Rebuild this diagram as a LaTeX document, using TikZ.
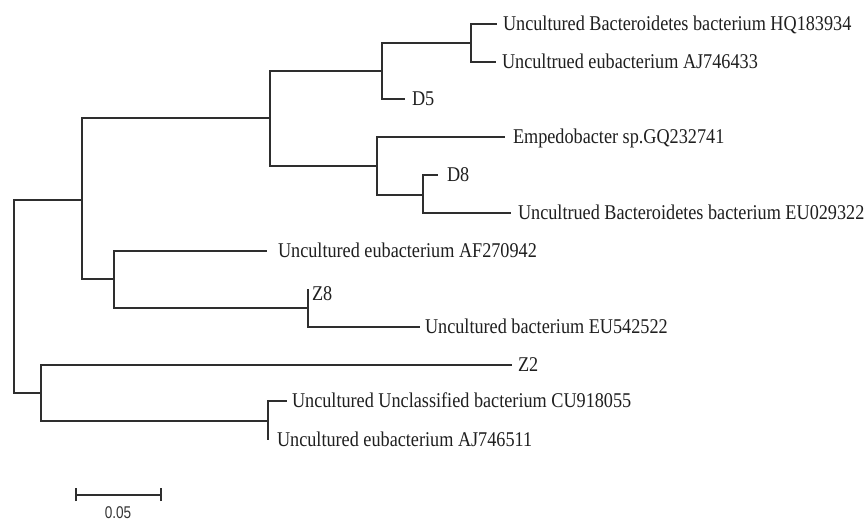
\documentclass[tikz,border=0pt]{standalone}
\usepackage{fontspec}
\setmainfont{Liberation Serif}
\newfontfamily\barfont{Liberation Sans}
\newcommand{\lbltext}[1]{\scalebox{0.867}[1]{#1}}
\begin{document}
\begin{tikzpicture}[x=1pt,y=-1pt,
  br/.style={draw=black!82,line width=1.7pt,line join=miter},
  lab/.style={anchor=base west,inner sep=0pt,outer sep=0pt,text=black!88,
    font=\fontsize{21}{23}\selectfont},
  barlab/.style={anchor=base,inner sep=0pt,text=black!80,font=\barfont\fontsize{17}{19}\selectfont}]
\path[use as bounding box,fill=white] (0,0) rectangle (868,523);
% internal nodes
\coordinate (root) at (14,296);
\coordinate (A) at (82,200);
\coordinate (B) at (270,118);
\coordinate (C) at (382,71);
\coordinate (N1) at (471,43);
\coordinate (D) at (377,166);
\coordinate (E) at (423,195);
\coordinate (F) at (114,279);
\coordinate (G) at (308,308);
\coordinate (H) at (41,393);
\coordinate (I) at (268,421);
% leaf tips
\coordinate (tHQ) at (497,24);
\coordinate (tAJa) at (496,62);
\coordinate (tD5) at (405,99);
\coordinate (tEmp) at (505,137);
\coordinate (tD8) at (438,175);
\coordinate (tEUa) at (511,213);
\coordinate (tAF) at (267,251);
\coordinate (tZ8) at (308,289);
\coordinate (tEUb) at (420,327);
\coordinate (tZ2) at (512,365);
\coordinate (tCU) at (287,401);
\coordinate (tAJb) at (268,440);
% branches
\draw[br] (root) |- (A);
\draw[br] (root) |- (H);
\draw[br] (A) |- (B);
\draw[br] (A) |- (F);
\draw[br] (B) |- (C);
\draw[br] (B) |- (D);
\draw[br] (C) |- (N1);
\draw[br] (C) |- (tD5);
\draw[br] (N1) |- (tHQ);
\draw[br] (N1) |- (tAJa);
\draw[br] (D) |- (tEmp);
\draw[br] (D) |- (E);
\draw[br] (E) |- (tD8);
\draw[br] (E) |- (tEUa);
\draw[br] (F) |- (tAF);
\draw[br] (F) |- (G);
\draw[br] (G) |- (tZ8);
\draw[br] (G) |- (tEUb);
\draw[br] (H) |- (tZ2);
\draw[br] (H) |- (I);
\draw[br] (I) |- (tCU);
\draw[br] (I) |- (tAJb);
% labels
\node[lab] (lHQ) at (503,30) {\lbltext{Uncultured Bacteroidetes bacterium HQ183934}};
\node[lab] (lAJa) at (502,68) {\lbltext{Uncultrued eubacterium AJ746433}};
\node[lab] (lD5) at (412,105) {\lbltext{D5}};
\node[lab] (lEmp) at (513,143) {\lbltext{Empedobacter sp.GQ232741}};
\node[lab] (lD8) at (447,181) {\lbltext{D8}};
\node[lab] (lEUa) at (518,219) {\lbltext{Uncultrued Bacteroidetes bacterium EU029322}};
\node[lab] (lAF) at (278,257) {\lbltext{Uncultured eubacterium AF270942}};
\node[lab] (lZ8) at (312,300) {\lbltext{Z8}};
\node[lab] (lEUb) at (425,333) {\lbltext{Uncultured bacterium EU542522}};
\node[lab] (lZ2) at (518,371) {\lbltext{Z2}};
\node[lab] (lCU) at (292,407) {\lbltext{Uncultured Unclassified bacterium CU918055}};
\node[lab] (lAJb) at (277,446) {\lbltext{Uncultured eubacterium AJ746511}};
% scale bar
\coordinate (s1) at (76,495);
\coordinate (s2) at (161,495);
\draw[br,line width=1.5pt] (s1) -- (s2);
\draw[br,line width=1.5pt] ([yshift=-6]s1) -- ([yshift=7]s1);
\draw[br,line width=1.5pt] ([yshift=-6]s2) -- ([yshift=7]s2);
\node[barlab] (sl) at (118,518) {\scalebox{0.8}[1]{0.05}};
\end{tikzpicture}
\end{document}
